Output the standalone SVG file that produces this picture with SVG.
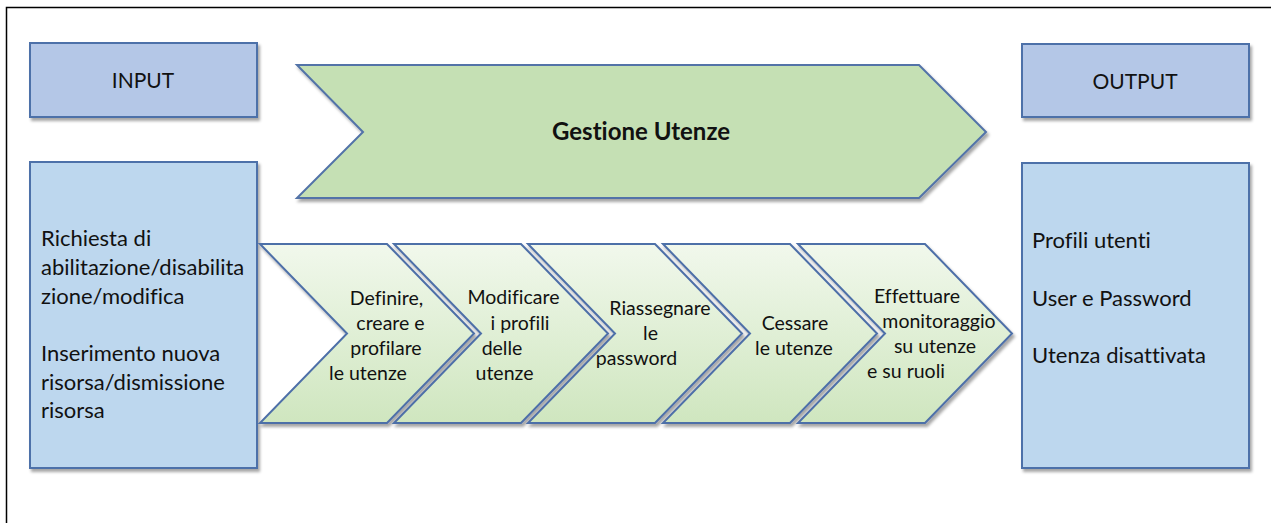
<svg xmlns="http://www.w3.org/2000/svg" width="1271" height="523" viewBox="0 0 1271 523">
<defs>
<filter id="sh" x="-10%" y="-10%" width="130%" height="130%">
<feDropShadow dx="2" dy="3" stdDeviation="1.5" flood-color="#000" flood-opacity="0.35"/>
</filter>
<linearGradient id="gg" x1="0" y1="0" x2="0" y2="1">
<stop offset="0" stop-color="#f1f8ec"/>
<stop offset="1" stop-color="#cfe6bf"/>
</linearGradient>
</defs>
<style>
.hdr{fill:#b4c7e7;stroke:#4e71a9;stroke-width:2;filter:url(#sh)}
.body{fill:#bdd7ee;stroke:#4e71a9;stroke-width:2;filter:url(#sh)}
.big{fill:#c5e0b4;stroke:#5273a8;stroke-width:2;filter:url(#sh)}
.chev{fill:url(#gg);stroke:#4e6fa8;stroke-width:2;filter:url(#sh)}
text{font-family:Lato,"Liberation Sans",sans-serif;fill:#111;font-variant-ligatures:none}
.t{font-size:22px}
.c{font-size:19.5px;text-anchor:middle}
.h{font-size:21px;text-anchor:middle}
.b{font-size:24px;font-weight:bold;text-anchor:middle}
</style>
<rect x="6.5" y="7.5" width="1290" height="540" fill="#fff" stroke="#000" stroke-width="1.5"/>

<g id="input">
<rect class="hdr" x="30" y="43" width="227" height="74"/>
<text class="h" x="143" y="88">INPUT</text>
</g>
<g id="input-body">
<rect class="body" x="30" y="162" width="227" height="306"/>
<text class="t" x="41" y="246">Richiesta di</text>
<text class="t" x="41" y="275">abilitazione/disabilita</text>
<text class="t" x="41" y="304">zione/modifica</text>
<text class="t" x="41" y="361">Inserimento nuova</text>
<text class="t" x="41" y="390">risorsa/dismissione</text>
<text class="t" x="41" y="418">risorsa</text>
</g>

<g id="output">
<rect class="hdr" x="1022" y="44" width="227" height="73"/>
<text class="h" x="1135" y="89">OUTPUT</text>
</g>
<g id="output-body">
<rect class="body" x="1022" y="163" width="227" height="305"/>
<text class="t" x="1032" y="248">Profili utenti</text>
<text class="t" x="1032" y="306">User e Password</text>
<text class="t" x="1032" y="363">Utenza disattivata</text>
</g>

<g id="gestione-utenze">
<polygon class="big" points="297,65 919,65 986,132 919,198 297,198 363,132"/>
<text class="b" x="641" y="140">Gestione Utenze</text>
</g>

<g id="step1">
<polygon class="chev" points="260,244 387,244 474,333.5 387,423 260,423 347,333.5"/>
<text class="c" x="386.5" y="305">Definire,</text>
<text class="c" x="390.5" y="330">creare e</text>
<text class="c" x="386" y="355">profilare</text>
<text class="c" x="368" y="380">le utenze</text>
</g>
<g id="step2">
<polygon class="chev" points="394,244 521,244 608,333.5 521,423 394,423 481,333.5"/>
<text class="c" x="513.5" y="304">Modificare</text>
<text class="c" x="520" y="330">i profili</text>
<text class="c" x="502" y="355">delle</text>
<text class="c" x="504.5" y="380">utenze</text>
</g>
<g id="step3">
<polygon class="chev" points="528,244 655,244 742,333.5 655,423 528,423 615,333.5"/>
<text class="c" x="660" y="315">Riassegnare</text>
<text class="c" x="650.5" y="340">le</text>
<text class="c" x="636.5" y="365">password</text>
</g>
<g id="step4">
<polygon class="chev" points="663,244 790,244 877,333.5 790,423 663,423 750,333.5"/>
<text class="c" x="795" y="330">Cessare</text>
<text class="c" x="794" y="355">le utenze</text>
</g>
<g id="step5">
<polygon class="chev" points="798,244 925,244 1012,333.5 925,423 798,423 885,333.5"/>
<text class="c" x="917" y="303">Effettuare</text>
<text class="c" x="939" y="328">monitoraggio</text>
<text class="c" x="935" y="353">su utenze</text>
<text class="c" x="906" y="378">e su ruoli</text>
</g>
<g id="connectors"></g>
</svg>
